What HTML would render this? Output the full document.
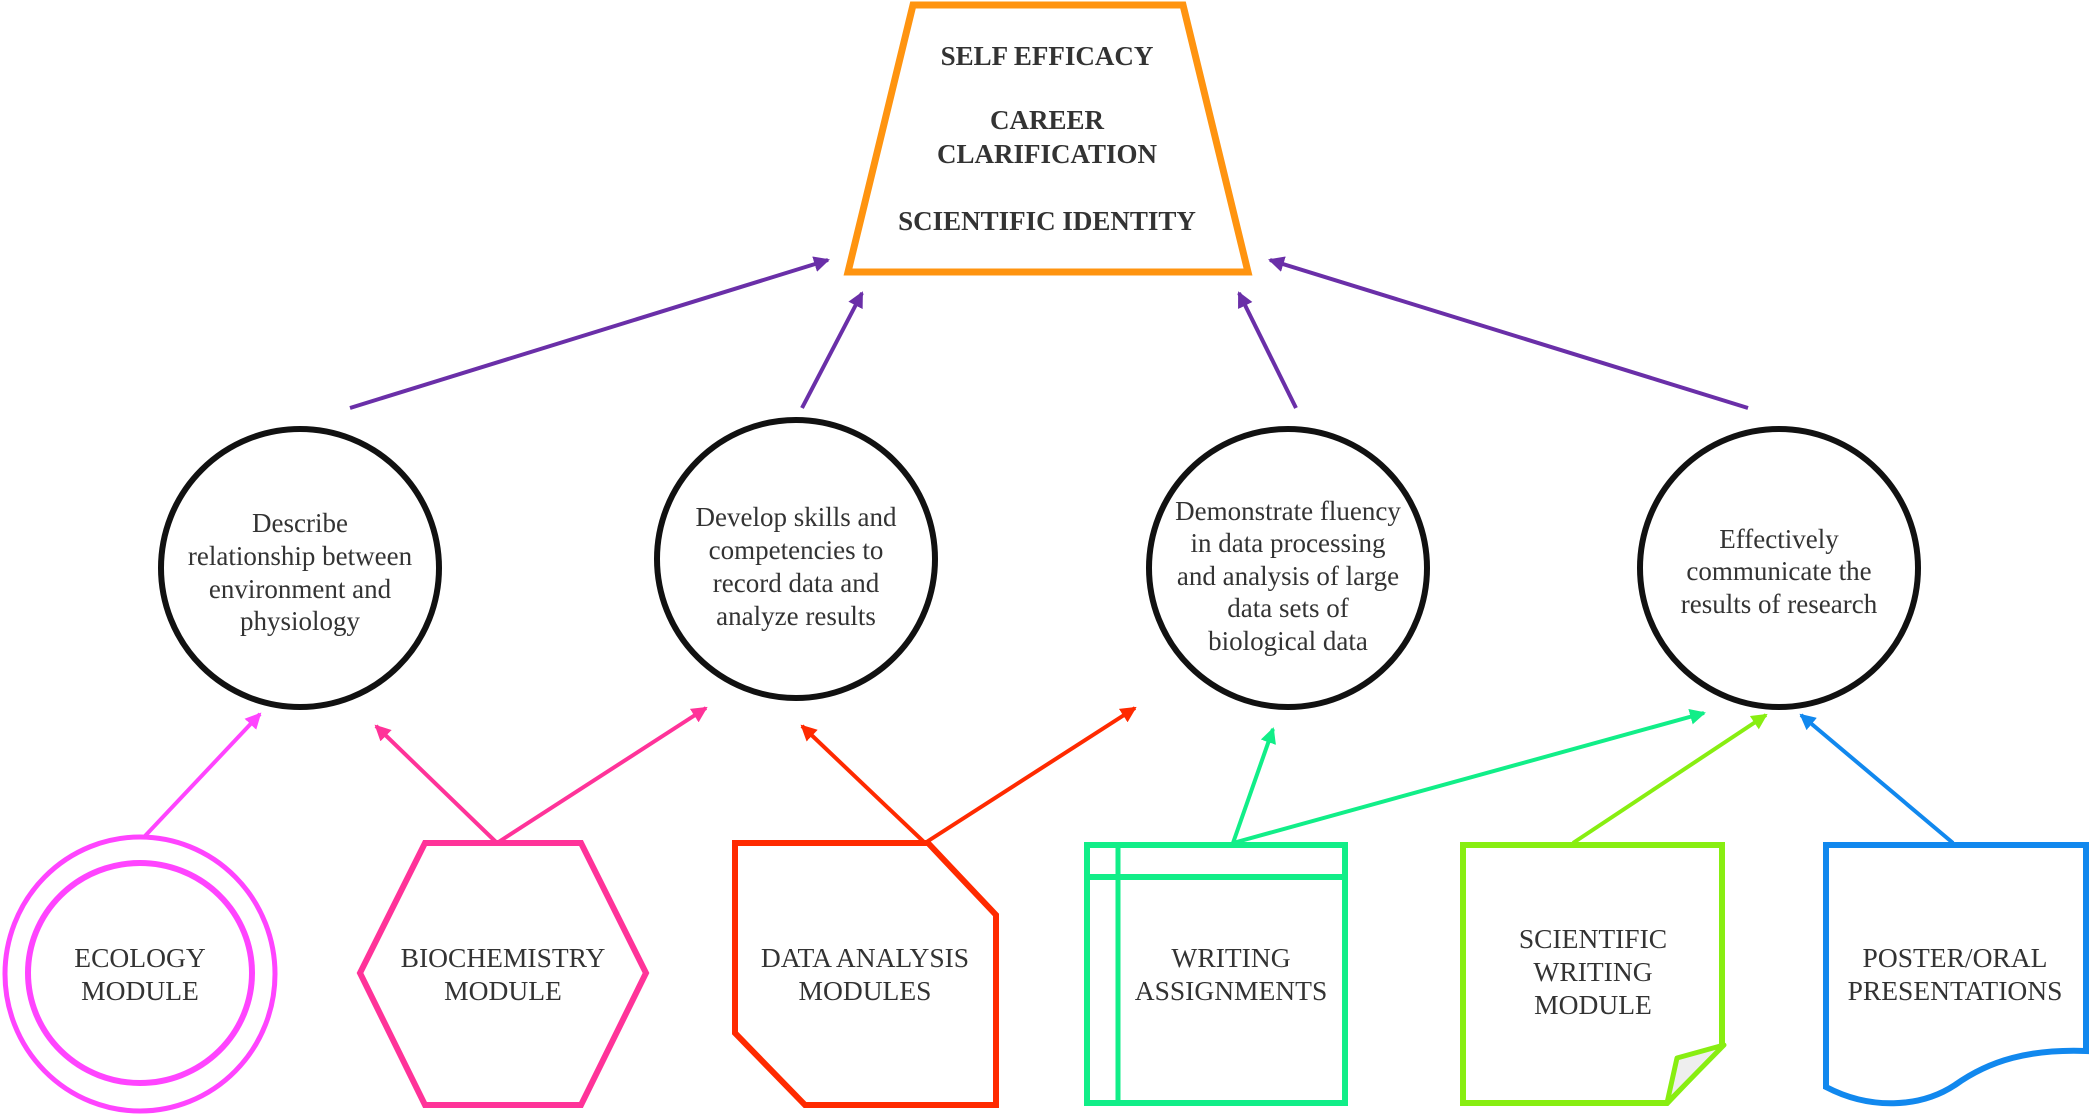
<!DOCTYPE html>
<html><head><meta charset="utf-8"><style>
html,body{margin:0;padding:0;background:#fff;}
svg{display:block;}
text{font-family:"Liberation Serif",serif;fill:#333;text-anchor:middle;}
.t{font-size:27px;font-weight:bold;}
.c{font-size:27px;}
.b{font-size:27.5px;}
</style></head><body>
<svg width="2090" height="1116" viewBox="0 0 2090 1116" xmlns="http://www.w3.org/2000/svg">
<defs>
<marker id="ap" markerWidth="4" markerHeight="4" refX="3.5" refY="2" orient="auto" markerUnits="strokeWidth"><path d="M0,0 L4,2 L0,4 Z" fill="#6a2fa8"/></marker>
<marker id="am" markerWidth="4" markerHeight="4" refX="3.5" refY="2" orient="auto" markerUnits="strokeWidth"><path d="M0,0 L4,2 L0,4 Z" fill="#ff44ff"/></marker>
<marker id="ak" markerWidth="4" markerHeight="4" refX="3.5" refY="2" orient="auto" markerUnits="strokeWidth"><path d="M0,0 L4,2 L0,4 Z" fill="#ff3399"/></marker>
<marker id="ar" markerWidth="4" markerHeight="4" refX="3.5" refY="2" orient="auto" markerUnits="strokeWidth"><path d="M0,0 L4,2 L0,4 Z" fill="#ff2a00"/></marker>
<marker id="ag" markerWidth="4" markerHeight="4" refX="3.5" refY="2" orient="auto" markerUnits="strokeWidth"><path d="M0,0 L4,2 L0,4 Z" fill="#11ee88"/></marker>
<marker id="al" markerWidth="4" markerHeight="4" refX="3.5" refY="2" orient="auto" markerUnits="strokeWidth"><path d="M0,0 L4,2 L0,4 Z" fill="#88ee11"/></marker>
<marker id="ab" markerWidth="4" markerHeight="4" refX="3.5" refY="2" orient="auto" markerUnits="strokeWidth"><path d="M0,0 L4,2 L0,4 Z" fill="#1188ee"/></marker>
</defs>

<polygon points="913,5 1183,5 1248,272 848,272" fill="#fff" stroke="#ff9410" stroke-width="7"/>
<text class="t" x="1047" y="65">SELF EFFICACY</text>
<text class="t" x="1047" y="129">CAREER</text>
<text class="t" x="1047" y="163">CLARIFICATION</text>
<text class="t" x="1047" y="230">SCIENTIFIC IDENTITY</text>

<g stroke="#6a2fa8" stroke-width="4" fill="none">
<line x1="350" y1="408" x2="828" y2="260" marker-end="url(#ap)"/>
<line x1="802" y1="408" x2="862" y2="293" marker-end="url(#ap)"/>
<line x1="1296" y1="408" x2="1239" y2="293" marker-end="url(#ap)"/>
<line x1="1748" y1="408" x2="1270" y2="260" marker-end="url(#ap)"/>
</g>

<g fill="#fff" stroke="#111" stroke-width="6">
<circle cx="300" cy="568" r="139"/>
<circle cx="796" cy="559" r="139"/>
<circle cx="1288" cy="568" r="139"/>
<circle cx="1779" cy="568" r="139"/>
</g>
<text class="c" x="300" y="532">Describe</text>
<text class="c" x="300" y="565">relationship between</text>
<text class="c" x="300" y="598">environment and</text>
<text class="c" x="300" y="630">physiology</text>

<text class="c" x="796" y="526">Develop skills and</text>
<text class="c" x="796" y="559">competencies to</text>
<text class="c" x="796" y="592">record data and</text>
<text class="c" x="796" y="625">analyze results</text>

<text class="c" x="1288" y="520">Demonstrate fluency</text>
<text class="c" x="1288" y="552">in data processing</text>
<text class="c" x="1288" y="585">and analysis of large</text>
<text class="c" x="1288" y="617">data sets of</text>
<text class="c" x="1288" y="650">biological data</text>

<text class="c" x="1779" y="548">Effectively</text>
<text class="c" x="1779" y="580">communicate the</text>
<text class="c" x="1779" y="613">results of research</text>

<g stroke-width="4" fill="none">
<line x1="145" y1="836" x2="260" y2="714" stroke="#ff44ff" marker-end="url(#am)"/>
<line x1="497" y1="843" x2="376" y2="726" stroke="#ff3399" marker-end="url(#ak)"/>
<line x1="497" y1="843" x2="706" y2="708" stroke="#ff3399" marker-end="url(#ak)"/>
<line x1="925" y1="843" x2="802" y2="726" stroke="#ff2a00" marker-end="url(#ar)"/>
<line x1="925" y1="843" x2="1135" y2="708" stroke="#ff2a00" marker-end="url(#ar)"/>
<line x1="1233" y1="843" x2="1273" y2="729" stroke="#11ee88" marker-end="url(#ag)"/>
<line x1="1233" y1="843" x2="1704" y2="713" stroke="#11ee88" marker-end="url(#ag)"/>
<line x1="1573" y1="843" x2="1766" y2="715" stroke="#88ee11" marker-end="url(#al)"/>
<line x1="1953" y1="843" x2="1801" y2="715" stroke="#1188ee" marker-end="url(#ab)"/>
</g>

<ellipse cx="140" cy="974" rx="135" ry="137" fill="#fff" stroke="#ff44ff" stroke-width="5"/>
<ellipse cx="140" cy="973" rx="112" ry="110" fill="none" stroke="#ff44ff" stroke-width="6"/>
<text class="b" x="140" y="967">ECOLOGY</text>
<text class="b" x="140" y="1000">MODULE</text>

<polygon points="425,843 581,843 646,973 581,1105 425,1105 360,973" fill="#fff" stroke="#ff3399" stroke-width="6"/>
<text class="b" x="503" y="967">BIOCHEMISTRY</text>
<text class="b" x="503" y="1000">MODULE</text>

<polygon points="735,843 928,843 996,915 996,1105 805,1105 735,1033" fill="#fff" stroke="#ff2a00" stroke-width="6"/>
<text class="b" x="865" y="967">DATA ANALYSIS</text>
<text class="b" x="865" y="1000">MODULES</text>

<rect x="1087" y="845" width="258" height="258" fill="#fff" stroke="#11ee88" stroke-width="6"/>
<line x1="1087" y1="877" x2="1345" y2="877" stroke="#11ee88" stroke-width="6"/>
<line x1="1118" y1="845" x2="1118" y2="1103" stroke="#11ee88" stroke-width="5"/>
<text class="b" x="1231" y="967">WRITING</text>
<text class="b" x="1231" y="1000">ASSIGNMENTS</text>

<polygon points="1463,845 1722,845 1722,1045 1667,1103 1463,1103" fill="#fff" stroke="#88ee11" stroke-width="6"/>
<polygon points="1724,1045 1677,1058 1667,1103" fill="#eee" stroke="#88ee11" stroke-width="5" stroke-linejoin="round"/>
<text class="b" x="1593" y="948">SCIENTIFIC</text>
<text class="b" x="1593" y="981">WRITING</text>
<text class="b" x="1593" y="1014">MODULE</text>

<path d="M1826,845 L2086,845 L2086,1051 C2030,1049 1990,1060 1955,1085 C1920,1108 1870,1110 1826,1087 Z" fill="#fff" stroke="#1188ee" stroke-width="6"/>
<text class="b" x="1955" y="967">POSTER/ORAL</text>
<text class="b" x="1955" y="1000">PRESENTATIONS</text>
</svg>
</body></html>
